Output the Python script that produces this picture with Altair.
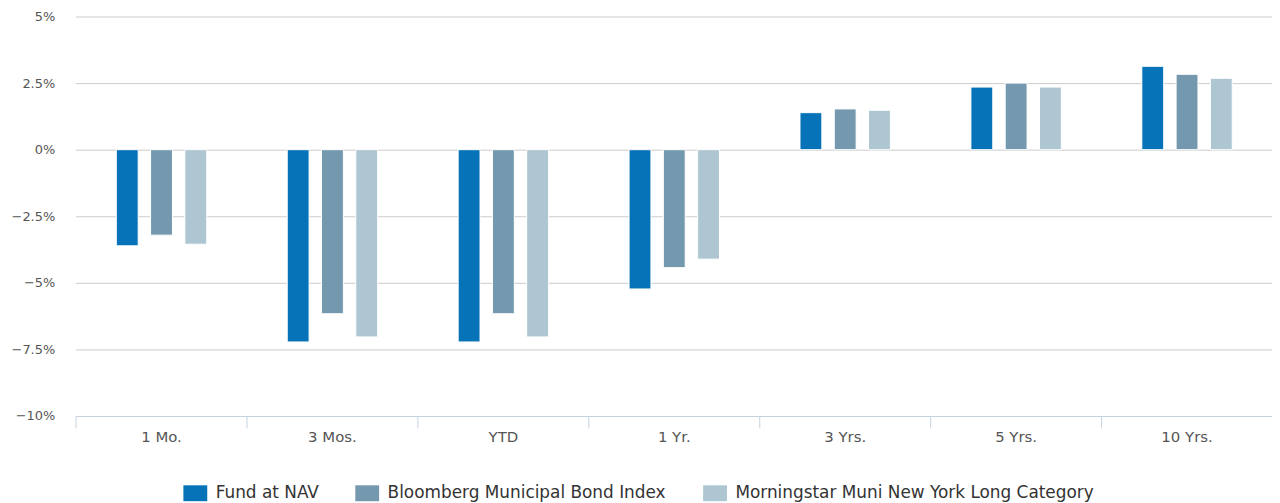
import altair as alt
import pandas as pd

categories = ["1 Mo.", "3 Mos.", "YTD", "1 Yr.", "3 Yrs.", "5 Yrs.", "10 Yrs."]
series = ["Fund at NAV", "Bloomberg Municipal Bond Index", "Morningstar Muni New York Long Category"]
fund = [-3.61, -7.22, -7.22, -5.23, 1.39, 2.35, 3.13]
bloomberg = [-3.21, -6.16, -6.16, -4.43, 1.53, 2.50, 2.83]
morningstar = [-3.55, -7.03, -7.03, -4.11, 1.48, 2.35, 2.68]
y_ticks = [-10, -7.5, -5, -2.5, 0, 2.5, 5]
colors = ["#0673b8", "#7499ae", "#aec6d2"]

rows = []
for s, vals in zip(series, [fund, bloomberg, morningstar]):
    for c, v in zip(categories, vals):
        rows.append({"period": c, "series": s, "value": v})
df = pd.DataFrame(rows)

FONT = "DejaVu Sans"

chart = alt.Chart(df).mark_bar(stroke="white", strokeWidth=1).encode(
    x=alt.X(
        "period:N",
        sort=categories,
        scale=alt.Scale(paddingInner=0, paddingOuter=0),
        axis=alt.Axis(
            title=None,
            labelAngle=0,
            tickBand="extent",
            grid=False,
            domainColor="#c5d3e0",
            domainWidth=1,
            tickColor="#c5d3e0",
            tickSize=12,
            labelFont=FONT,
            labelFontSize=15,
            labelColor="#555555",
            labelPadding=2,
            zindex=1,
        ),
    ),
    xOffset=alt.XOffset(
        "series:N",
        sort=series,
        scale=alt.Scale(paddingInner=0.362, paddingOuter=0, range=[41, 132]),
    ),
    y=alt.Y(
        "value:Q",
        scale=alt.Scale(domain=[-10, 5], nice=False, zero=False),
        axis=alt.Axis(
            title=None,
            values=y_ticks,
            labelExpr="format(datum.value, '~g') + '%'",
            domain=False,
            ticks=False,
            tickSize=0,
            gridColor="#cccccc",
            gridWidth=1,
            labelFont=FONT,
            labelFontSize=13,
            labelColor="#555555",
            labelPadding=21,
        ),
    ),
    color=alt.Color(
        "series:N",
        sort=series,
        scale=alt.Scale(domain=series, range=colors),
        legend=alt.Legend(
            title=None,
            orient="none",
            direction="horizontal",
            columns=3,
            legendX=112,
            legendY=471,
            padding=0,
            symbolType="M-1.5,-1H1.5V1H-1.5Z",
            symbolSize=256,
            symbolStrokeWidth=0,
            symbolOpacity=1,
            labelOffset=12,
            columnPadding=36,
            labelFont=FONT,
            labelFontSize=17,
            labelColor="#333333",
            labelLimit=0,
        ),
    ),
).properties(
    width=1204,
    height=402,
    padding={"left": 68, "top": 7, "right": 0, "bottom": 88},
    autosize=alt.AutoSizeParams(type="none"),
).configure_view(stroke=None)

chart.save("out.html", embed_options={"renderer": "svg", "actions": False})
